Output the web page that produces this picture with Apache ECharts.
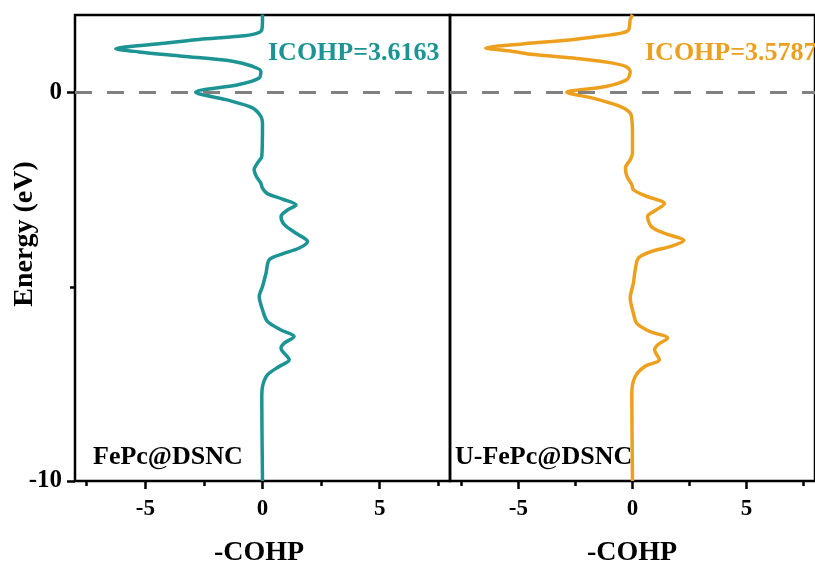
<!DOCTYPE html>
<html>
<head>
<meta charset="utf-8">
<script src="https://cdn.jsdelivr.net/npm/echarts@6/dist/echarts.min.js"></script>
<style>
  html, body { margin: 0; padding: 0; background: #fff; }
  #chart { width: 815px; height: 565px; }
</style>
</head>
<body>
<div id="chart"></div>
<script>
// COHP curves: energy (eV) vs -COHP for each system
const energyFe = [2.01, 1.88, 1.62, 1.52, 1.45, 1.37, 1.26, 1.13, 1.05, 0.94, 0.81, 0.68, 0.55, 0.38, 0.21, 0.01,
  -0.18, -0.39, -0.61, -0.80, -1.64, -1.81, -1.98, -2.16, -2.33, -2.46, -2.60, -2.74, -2.89, -3.02, -3.19,
  -3.40, -3.62, -3.83, -4.00, -4.15, -4.30, -4.65, -4.99, -5.25, -5.59, -5.89, -6.11, -6.28, -6.45, -6.58,
  -6.88, -7.05, -7.27, -7.57, -7.87, -10.0];
const cohpFe = [0.0, 0.0, -0.03, -0.28, -1.00, -2.71, -4.41, -6.26, -5.27, -3.42, -1.28, -0.43, -0.07, -0.14, -1.00, -2.85,
  -1.56, -0.43, -0.07, 0.0, -0.03, -0.21, -0.36, -0.26, -0.07, 0.0, 0.21, 0.85, 1.43, 1.07, 0.79,
  0.93, 1.43, 1.92, 1.57, 0.85, 0.29, 0.15, 0.0, -0.14, 0.0, 0.21, 0.79, 1.35, 0.93, 0.79,
  1.14, 0.71, 0.21, 0.0, -0.03, 0.0];

const energyU = [2.01, 1.88, 1.62, 1.54, 1.45, 1.35, 1.26, 1.15, 1.08, 0.98, 0.88, 0.79, 0.68, 0.55, 0.34, 0.16, 0.01,
  -0.14, -0.34, -0.48, -0.60, -1.04, -1.55, -1.73, -1.94, -2.16, -2.37, -2.50, -2.65, -2.86, -3.02, -3.19,
  -3.45, -3.62, -3.81, -3.96, -4.09, -4.26, -4.56, -4.90, -5.29, -5.68, -5.94, -6.15, -6.32, -6.49, -6.62,
  -6.88, -7.05, -7.31, -7.74, -10.0];
const cohpU = [0.0, -0.10, -0.17, -0.45, -1.45, -2.88, -4.73, -6.44, -5.44, -4.30, -2.45, -1.17, -0.31, -0.10, -0.24, -1.17, -2.88,
  -1.74, -0.60, -0.17, -0.05, 0.0, 0.0, -0.10, -0.31, -0.24, -0.03, 0.04, 0.54, 1.40, 1.04, 0.66,
  0.83, 1.40, 2.25, 1.68, 0.83, 0.26, 0.12, 0.04, -0.10, 0.04, 0.19, 0.76, 1.54, 1.11, 0.97,
  1.18, 0.54, 0.12, -0.03, 0.0];

const icohpFe = 'ICOHP=3.6163';
const icohpU = 'ICOHP=3.5787';
const nameFe = 'FePc@DSNC';
const nameU = 'U-FePc@DSNC';

const xMajorTicks = [-5, 0, 5];
const xMinorTicks = [-7.5, -2.5, 2.5, 7.5];
const yMinorTicks = [-5];

const TEAL = '#1c9494';
const ORANGE = '#eda01e';
const FONT = '"Liberation Serif", "Times New Roman", serif';

const pairs = (xs, ys) => xs.map((x, i) => [x, ys[i]]);

const chart = echarts.init(document.getElementById('chart'), null, { renderer: 'canvas' });

const gridBox = { top: 15, height: 466, width: 375, show: true, borderColor: '#000', borderWidth: 2.5, backgroundColor: 'transparent' };

function majorX(gridIndex) {
  return {
    type: 'value', gridIndex, min: -8, max: 8, position: 'bottom',
    axisLine: { show: false, onZero: false },
    splitLine: { show: false },
    axisTick: { show: true, customValues: xMajorTicks, length: 8, lineStyle: { color: '#000', width: 2.5 } },
    axisLabel: { show: true, customValues: xMajorTicks, color: '#000', fontFamily: FONT, fontWeight: 'bold', fontSize: 23, margin: 17 }
  };
}
function minorX(gridIndex) {
  return {
    type: 'value', gridIndex, min: -8, max: 8, position: 'bottom',
    axisLine: { show: false, onZero: false },
    splitLine: { show: false },
    axisTick: { show: true, customValues: xMinorTicks, length: 5, lineStyle: { color: '#000', width: 2.5 } },
    axisLabel: { show: false, customValues: xMinorTicks }
  };
}

const curveSeries = (xIdx, yIdx, data, color) => ({
  type: 'line', xAxisIndex: xIdx, yAxisIndex: yIdx, data,
  smooth: 0.3, showSymbol: false, symbol: 'none',
  lineStyle: { color, width: 3.5 },
  markLine: {
    silent: true, symbol: 'none', label: { show: false },
    lineStyle: { color: '#808080', width: 3, type: [17, 15] },
    data: [{ yAxis: 0 }]
  },
  z: 3
});

const option = {
  animation: false,
  backgroundColor: '#fff',
  grid: [
    Object.assign({ left: 75 }, gridBox),
    Object.assign({ left: 450 }, gridBox, { width: 374 })
  ],
  xAxis: [majorX(0), minorX(0), majorX(1), minorX(1)],
  yAxis: [
    {
      type: 'value', gridIndex: 0, min: -10, max: 2, interval: 10, position: 'left',
      axisLine: { show: false, onZero: false }, splitLine: { show: false },
      axisTick: { show: true, length: 8, lineStyle: { color: '#000', width: 2.5 } },
      axisLabel: { color: '#000', fontFamily: FONT, fontWeight: 'bold', fontSize: 25, margin: 13, showMaxLabel: false }
    },
    {
      type: 'value', gridIndex: 0, min: -10, max: 2, position: 'left',
      axisLine: { show: false, onZero: false }, splitLine: { show: false },
      axisTick: { show: true, customValues: yMinorTicks, length: 5, lineStyle: { color: '#000', width: 2.5 } },
      axisLabel: { show: false, customValues: yMinorTicks }
    },
    {
      type: 'value', gridIndex: 1, min: -10, max: 2, interval: 10,
      axisLine: { show: false, onZero: false }, splitLine: { show: false },
      axisTick: { show: false }, axisLabel: { show: false }
    }
  ],
  series: [
    curveSeries(0, 0, pairs(cohpFe, energyFe), TEAL),
    curveSeries(2, 2, pairs(cohpU, energyU), ORANGE)
  ],
  graphic: [
    { type: 'text', left: 268, top: 40, style: { text: icohpFe, fill: TEAL, font: 'bold 26px ' + FONT } },
    { type: 'text', left: 645, top: 40, style: { text: icohpU, fill: ORANGE, font: 'bold 26px ' + FONT } },
    { type: 'text', left: 93, top: 444, style: { text: nameFe, fill: '#000', font: 'bold 26px ' + FONT } },
    { type: 'text', left: 455, top: 444, style: { text: nameU, fill: '#000', font: 'bold 26px ' + FONT } },
    { type: 'text', x: 259, y: 553, style: { text: '-COHP', fill: '#000', font: 'bold 28px ' + FONT, align: 'center', verticalAlign: 'middle' } },
    { type: 'text', x: 632, y: 553, style: { text: '-COHP', fill: '#000', font: 'bold 28px ' + FONT, align: 'center', verticalAlign: 'middle' } },
    { type: 'text', x: 25, y: 234, rotation: Math.PI / 2, style: { text: 'Energy (eV)', fill: '#000', font: 'bold 28px ' + FONT, align: 'center', verticalAlign: 'middle' } }
  ]
};

chart.setOption(option);
</script>
</body>
</html>
